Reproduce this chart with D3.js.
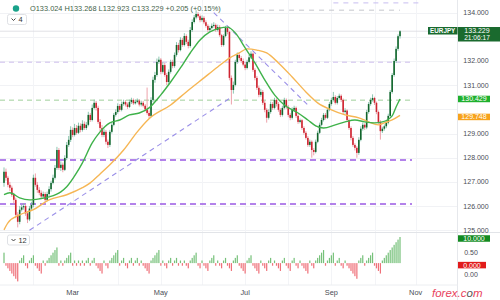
<!DOCTYPE html>
<html><head><meta charset="utf-8">
<script src="https://cdn.jsdelivr.net/npm/d3@7"></script>
<style>body{margin:0;background:#fff}svg{display:block;font-family:"Liberation Sans",Arial,sans-serif}</style>
</head><body><svg id="c" width="500" height="300"></svg>
<script>
const symbol = "EURJPY";
const startDate = "2021-01-11";
const countdown = "21:06:17";
const opens = [126.96,127.42,127.17,126.88,126.76,126.47,126.26,125.64,125.35,125.85,
125.95,126.00,125.70,125.45,125.90,126.05,127.17,126.88,126.67,126.55,
126.40,126.50,126.26,126.50,126.70,126.96,127.17,127.58,128.32,127.58,
127.71,127.50,127.99,128.53,128.74,129.15,128.94,129.23,129.03,129.32,
129.15,129.40,129.23,129.36,129.77,129.56,130.06,130.27,130.06,129.48,
129.23,128.94,129.07,128.66,128.53,129.07,129.36,129.77,129.89,130.14,
129.98,130.22,130.30,130.20,130.10,130.30,130.39,130.25,130.31,130.36,
130.20,130.27,130.15,130.00,129.85,129.73,130.39,131.22,131.42,131.96,
132.05,131.55,131.83,131.42,131.13,131.55,131.96,131.79,132.25,132.66,
132.45,132.87,132.66,133.03,132.79,132.62,133.28,133.61,133.80,133.94,
133.85,133.69,133.78,133.60,133.45,133.28,133.36,133.45,133.49,133.28,
133.40,133.07,132.66,133.03,133.36,133.20,131.30,130.80,131.01,131.96,
132.25,132.12,132.00,131.85,131.71,131.96,132.15,132.30,131.63,131.30,
130.89,130.60,130.72,130.27,129.98,129.65,129.89,130.22,130.06,130.39,
130.22,129.98,129.77,130.06,130.39,130.10,129.77,129.65,129.98,130.06,
129.73,129.48,129.55,129.23,129.03,128.82,128.53,128.66,128.32,128.24,
128.66,129.03,129.36,129.56,129.77,129.65,129.98,130.22,130.39,130.51,
130.27,130.47,130.56,130.39,129.89,129.95,129.56,129.23,128.82,128.53,
128.41,128.20,128.74,129.20,129.36,129.25,129.89,130.22,130.39,130.47,
130.27,129.89,129.48,129.10,129.20,129.30,129.45,129.73,130.72,131.42,
132.00,132.50,133.024];
const closes = [127.42,127.17,126.88,126.76,126.47,126.26,125.64,125.35,125.85,125.95,
126.00,125.70,125.45,125.90,126.05,127.17,126.88,126.67,126.55,126.40,
126.50,126.26,126.50,126.70,126.96,127.17,127.58,128.32,127.58,127.71,
127.50,127.99,128.53,128.74,129.15,128.94,129.23,129.03,129.32,129.15,
129.40,129.23,129.36,129.77,129.56,130.06,130.27,130.06,129.48,129.23,
128.94,129.07,128.66,128.53,129.07,129.36,129.77,129.89,130.14,129.98,
130.22,130.30,130.20,130.10,130.30,130.39,130.25,130.31,130.36,130.20,
130.27,130.15,130.00,129.85,129.73,130.39,131.22,131.42,131.96,132.05,
131.55,131.83,131.42,131.13,131.55,131.96,131.79,132.25,132.66,132.45,
132.87,132.66,133.03,132.79,132.62,133.28,133.61,133.80,133.94,133.85,
133.69,133.78,133.60,133.45,133.28,133.36,133.45,133.49,133.28,133.40,
133.07,132.66,133.03,133.36,133.20,131.30,130.80,131.01,131.96,132.25,
132.12,132.00,131.85,131.71,131.96,132.15,132.30,131.63,131.30,130.89,
130.60,130.72,130.27,129.98,129.65,129.89,130.22,130.06,130.39,130.22,
129.98,129.77,130.06,130.39,130.10,129.77,129.65,129.98,130.06,129.73,
129.48,129.55,129.23,129.03,128.82,128.53,128.66,128.32,128.24,128.66,
129.03,129.36,129.56,129.77,129.65,129.98,130.22,130.39,130.51,130.27,
130.47,130.56,130.39,129.89,129.95,129.56,129.23,128.82,128.53,128.41,
128.20,128.74,129.20,129.36,129.25,129.89,130.22,130.39,130.47,130.27,
129.89,129.48,129.10,129.20,129.30,129.45,129.73,130.72,131.42,132.00,
132.50,133.024,133.229];
const highs = [127.60,127.55,127.25,127.00,126.85,126.55,126.35,125.75,126.00,126.05,
126.12,126.08,125.80,126.00,126.18,127.30,127.35,127.00,126.78,126.65,
126.60,126.58,126.60,126.82,127.05,127.30,127.70,128.45,128.40,127.85,
127.80,128.10,128.65,128.90,129.30,129.25,129.40,129.35,129.45,129.42,
129.55,129.50,129.48,129.90,129.85,130.20,130.40,130.35,130.15,129.60,
129.35,129.20,129.15,128.75,129.15,129.45,129.85,130.00,130.25,130.22,
130.32,130.40,130.38,130.28,130.40,130.48,130.45,130.40,130.45,130.42,
130.36,130.35,130.22,130.90,129.95,130.50,131.35,131.55,132.10,132.18,
132.12,131.95,131.92,131.50,131.65,132.05,132.05,132.35,132.78,132.75,
132.98,132.95,133.15,133.10,132.88,133.40,133.72,133.90,134.10,134.02,
133.92,133.88,133.85,133.68,133.52,133.45,133.55,133.60,133.55,133.50,
133.48,133.12,133.10,133.45,133.42,133.25,131.40,131.15,132.05,132.35,
132.32,132.20,132.10,131.95,132.05,132.25,132.40,132.35,131.70,131.38,
130.98,130.85,130.80,130.35,130.05,130.00,130.32,130.30,130.48,130.45,
130.30,130.05,130.15,130.48,130.45,130.18,129.85,130.08,130.15,130.12,
129.80,129.62,129.60,129.30,129.10,128.90,128.75,128.72,128.40,128.75,
129.12,129.45,129.65,129.85,129.85,130.05,130.30,130.48,130.72,130.58,
130.55,130.65,130.62,130.45,130.05,130.00,129.62,129.30,128.90,128.60,
128.48,128.85,129.30,129.45,129.42,129.98,130.30,130.48,130.62,130.52,
130.32,129.95,129.55,129.28,129.38,129.52,129.82,130.80,131.50,132.10,
132.60,133.10,133.268];
const lows = [126.80,127.05,126.78,126.62,126.38,126.10,125.50,125.12,125.25,125.78,
125.85,125.60,125.30,125.38,125.82,125.95,126.80,126.55,126.45,126.30,
126.32,126.15,126.20,126.42,126.60,126.90,127.10,127.50,127.50,127.45,
127.40,127.45,127.90,128.45,128.65,128.85,128.88,128.95,128.98,129.05,
129.08,129.15,129.15,129.30,129.48,129.50,130.00,129.95,129.40,129.10,
128.85,128.85,128.55,128.40,128.45,129.00,129.30,129.70,129.82,129.90,
129.92,130.15,130.12,130.02,130.05,130.22,130.18,130.20,130.25,130.12,
130.12,130.08,129.92,129.78,129.62,129.68,130.30,131.10,131.35,131.88,
131.45,131.48,131.35,131.00,131.05,131.48,131.70,131.72,132.18,132.35,
132.40,132.58,132.60,132.70,132.52,132.55,133.20,133.55,133.72,133.78,
133.60,133.62,133.52,133.38,133.20,133.22,133.30,133.38,133.20,133.22,
133.00,132.58,132.60,132.98,133.10,131.20,130.20,130.65,130.95,131.88,
132.02,131.92,131.78,131.62,131.65,131.90,132.08,131.55,131.20,130.80,
130.50,130.52,130.18,129.88,129.45,129.58,129.82,129.98,130.00,130.12,
129.90,129.68,129.70,130.00,130.02,129.68,129.55,129.58,129.90,129.65,
129.40,129.42,129.15,128.95,128.75,128.45,128.45,128.00,128.10,128.18,
128.60,128.98,129.30,129.50,129.58,129.60,129.92,130.15,130.32,130.20,
130.20,130.40,130.30,129.80,129.82,129.48,129.15,128.72,128.45,128.30,
128.00,128.12,128.68,129.12,129.15,129.18,129.82,130.15,130.32,130.18,
129.80,129.40,128.75,129.02,129.12,129.22,129.38,129.68,130.65,131.35,
131.92,132.42,132.923];
const streak = [4,-1,-2,-3,-4,-5,-6,-7,1,2,
3,-1,-2,1,2,3,-1,-2,-3,-4,
1,-1,1,2,3,4,5,6,-1,1,
-1,1,2,3,4,-1,1,-1,1,-1,
1,-1,1,2,-1,1,2,-1,-2,-3,
-4,1,-1,-2,1,2,3,4,5,-1,
1,2,-1,-2,1,2,-1,1,2,-1,
1,-1,-2,-3,-4,1,2,3,4,5,
-1,1,-1,-2,1,2,-1,1,2,-1,
1,-1,1,-1,-2,1,2,3,4,-1,
-2,1,-1,-2,-3,1,2,3,-1,1,
-1,-2,1,2,-1,-2,-3,1,2,3,
-1,-2,-3,-4,1,2,3,-1,-2,-3,
-4,1,-1,-2,-3,1,2,-1,1,-1,
-2,-3,1,2,-1,-2,-3,1,2,-1,
-2,1,-1,-2,-3,-4,1,-1,-2,1,
2,3,4,5,-1,1,2,3,4,-1,
1,2,-1,-2,1,-1,-2,-3,-4,-5,
-6,1,2,3,-1,1,2,3,4,-1,
-2,-3,-4,1,2,3,4,5,6,7,
8,9,10];
const ma20Idx = [0,3,8,13,18,23,29,32,37,40,45,49,54,59,64,69,74,80,85,90,95,100,105,110,114,118,123,128,133,138,143,150,155,159,163,169,174,179,184,189,193,198,200,202];
const ma20Val = [126.47,126.55,126.34,126.26,126.30,126.38,126.59,126.80,127.37,127.79,128.61,129.07,129.44,129.56,129.77,129.85,130.06,130.60,131.13,131.71,132.33,132.87,133.20,133.36,133.40,133.16,132.54,131.92,131.22,130.60,130.18,129.85,129.56,129.32,129.23,129.36,129.48,129.56,129.48,129.44,129.48,129.73,130.10,130.429];
const ma50Idx = [0,2,8,15,23,32,40,44,49,54,61,68,74,85,93,102,109,115,120,124,129,134,140,147,154,160,167,174,181,186,191,194,198,202];
const ma50Val = [125.02,125.31,125.64,125.85,126.26,126.47,126.76,126.96,127.33,127.71,128.32,129.07,129.61,130.18,130.72,131.30,131.75,132.12,132.33,132.50,132.45,132.33,131.92,131.34,130.72,130.27,129.98,129.77,129.65,129.48,129.36,129.44,129.56,129.748];
const priceTicks = [125,126,127,128,129,130,131,132,133,134];
const monthLabels = ["Mar","May","Jul","Sep","Nov"];
const monthDates = ["2021-03-01","2021-05-03","2021-07-01","2021-09-01","2021-11-01"];
const gridDates = ["2021-02-01","2021-03-01","2021-04-01","2021-05-03","2021-06-01","2021-07-01","2021-08-02","2021-09-01","2021-10-01","2021-11-01"];
const purpleLevels = [127.905, 126.09];
const greenLevel = 130.38;
const lavenderLevel = 131.95;
const topGrayLevel = 134.1;
const topLavLevel = 134.4;
const trendUp = [[13,125.0],[116,130.5]];
const trendDown = [[107,134.0],[156,130.1]];
const histTicks = [0.50, 0.00];
const histTagValues = [10, 0];

function tIndex(ds){let d=new Date(startDate+"T00:00:00Z"),t=new Date(ds+"T00:00:00Z"),n=0;while(d<t){d.setUTCDate(d.getUTCDate()+1);const w=d.getUTCDay();if(w!==0&&w!==6)n++;}return n;}

const svg = d3.select("#c");
const W=500, plotR=457.5, histT=232.5, histB=285;
const x = d3.scaleLinear().domain([0, closes.length-1]).range([4, 400]);
const y = d3.scaleLinear().domain([124.93, 134.52]).range([232, 0]);
const yh = d3.scaleLinear().domain([-8, 10]).range([284, 237]);
const yht = d3.scaleLinear().domain([0, 0.5]).range([275, 253]);
const last = closes.length-1;

// grid
svg.append("g").selectAll("line").data(priceTicks).join("line")
  .attr("x1",0).attr("x2",plotR).attr("y1",d=>Math.round(y(d))+0.5).attr("y2",d=>Math.round(y(d))+0.5)
  .attr("stroke","#f1f2f5");
svg.append("g").selectAll("line").data(gridDates).join("line")
  .attr("x1",d=>Math.round(x(tIndex(d)))+0.5).attr("x2",d=>Math.round(x(tIndex(d)))+0.5)
  .attr("y1",0).attr("y2",histB).attr("stroke","#f3f4f7");
svg.append("line").attr("x1",plotR).attr("x2",plotR).attr("y1",0).attr("y2",300).attr("stroke","#e6e8ec");
svg.append("line").attr("x1",0).attr("x2",W).attr("y1",histT).attr("y2",histT).attr("stroke","#e2e4e8");
svg.append("line").attr("x1",0).attr("x2",plotR).attr("y1",histB).attr("y2",histB).attr("stroke","#eceef1");

// drawings
svg.append("line").attr("x1",0).attr("x2",plotR).attr("y1",y(closes[last])).attr("y2",y(closes[last])).attr("stroke","#d9dbe0").attr("stroke-width",0.8);
svg.append("g").selectAll("line").data(purpleLevels).join("line")
  .attr("x1",0).attr("x2",412).attr("y1",d=>y(d)).attr("y2",d=>y(d))
  .attr("stroke","#9b59e3").attr("stroke-width",1.6).attr("stroke-dasharray","6,4");
svg.append("line").attr("x1",0).attr("x2",412).attr("y1",y(greenLevel)).attr("y2",y(greenLevel))
  .attr("stroke","#9fcf9b").attr("stroke-width",1).attr("stroke-dasharray","5,4");
svg.append("line").attr("x1",0).attr("x2",412).attr("y1",y(lavenderLevel)).attr("y2",y(lavenderLevel))
  .attr("stroke","#cdbdec").attr("stroke-width",1).attr("stroke-dasharray","5,4");
svg.append("line").attr("x1",x(125)).attr("x2",x(202)).attr("y1",y(topGrayLevel)).attr("y2",y(topGrayLevel))
  .attr("stroke","#c4c6cc").attr("stroke-width",1).attr("stroke-dasharray","5,5");
svg.append("line").attr("x1",x(168)).attr("x2",420).attr("y1",y(topLavLevel)).attr("y2",y(topLavLevel))
  .attr("stroke","#c7bdf0").attr("stroke-width",1).attr("stroke-dasharray","5,5");
[trendUp, trendDown].forEach(tl=>{
  svg.append("line").attr("x1",x(tl[0][0])).attr("y1",y(tl[0][1])).attr("x2",x(tl[1][0])).attr("y2",y(tl[1][1]))
    .attr("stroke","#9a8fe8").attr("stroke-width",1.1).attr("stroke-dasharray","5,4");
});

// candles
const idx = d3.range(closes.length);
const up = i => closes[i] >= opens[i];
svg.append("g").selectAll("line").data(idx).join("line")
  .attr("x1",i=>x(i)).attr("x2",i=>x(i)).attr("y1",i=>y(highs[i])).attr("y2",i=>y(lows[i]))
  .attr("stroke",i=>up(i)?"#7fbfa8":"#eb97a1").attr("stroke-width",0.9);
svg.append("g").selectAll("rect").data(idx).join("rect")
  .attr("x",i=>x(i)-0.8).attr("width",1.6)
  .attr("y",i=>y(Math.max(opens[i],closes[i])))
  .attr("height",i=>Math.max(0.8, Math.abs(y(opens[i])-y(closes[i]))))
  .attr("fill",i=>up(i)?"#12652c":"#cf2430");

// moving averages
const line = d3.line().x(d=>x(d[0])).y(d=>y(d[1])).curve(d3.curveMonotoneX);
svg.append("path").datum(ma50Idx.map((d,i)=>[d,ma50Val[i]])).attr("d",line).attr("fill","none").attr("stroke","#f6b654").attr("stroke-width",1.4);
svg.append("path").datum(ma20Idx.map((d,i)=>[d,ma20Val[i]])).attr("d",line).attr("fill","none").attr("stroke","#3fb24a").attr("stroke-width",1.4);

// histogram
svg.append("g").selectAll("rect").data(idx).join("rect")
  .attr("x",i=>x(i)-0.6).attr("width",1.2)
  .attr("y",i=>streak[i]>=0?yh(streak[i]):yh(0))
  .attr("height",i=>Math.abs(yh(streak[i])-yh(0)))
  .attr("fill",i=>streak[i]>=0?"#76c17a":"#ef7079");

// tags
function tag(yc, txt, fill, h, w){
  svg.append("rect").attr("x",458).attr("y",yc-h/2).attr("width",w||32).attr("height",h).attr("fill",fill);
  svg.append("text").attr("x",458+(w||32)/2).attr("y",yc+2.4).attr("text-anchor","middle").attr("font-size",7).attr("fill","#fff").text(txt);
}
const tagYs = [y(closes[last]), y(ma20Val[ma20Val.length-1]), y(ma50Val[ma50Val.length-1])];
svg.append("g").selectAll("text").data(priceTicks.filter(d=>tagYs.every(t=>Math.abs(y(d)-t)>7.5))).join("text")
  .attr("x",476).attr("y",d=>y(d)+2.4).attr("text-anchor","middle")
  .attr("font-size",7).attr("fill","#4a4d55").text(d=>d.toFixed(3));
svg.append("g").selectAll("text").data(histTicks).join("text")
  .attr("x",471).attr("y",d=>yht(d)+2.4).attr("text-anchor","middle")
  .attr("font-size",7).attr("fill","#4a4d55").text(d=>d.toFixed(2));
tag(y(ma50Val[ma50Val.length-1])+1.5, ma50Val[ma50Val.length-1].toFixed(3), "#f7a21b", 6.5);
tag(y(ma20Val[ma20Val.length-1]), ma20Val[ma20Val.length-1].toFixed(3), "#1fb02e", 6.5);
tag(yh(histTagValues[0])+1.5, histTagValues[0].toFixed(3), "#138a21", 6.5);
tag(yh(histTagValues[1])+2, histTagValues[1].toFixed(3), "#e11b1b", 6.5, 28);
svg.append("rect").attr("x",428).attr("y",27).attr("width",29.5).attr("height",7.5).attr("fill","#1a6a2e");
svg.append("text").attr("x",442.7).attr("y",33).attr("text-anchor","middle").attr("font-size",6.3).attr("font-weight","bold").attr("fill","#fff").text(symbol);
svg.append("rect").attr("x",458).attr("y",27).attr("width",42).attr("height",14.5).attr("fill","#1a6a2e");
svg.append("text").attr("x",477).attr("y",33.3).attr("text-anchor","middle").attr("font-size",7).attr("fill","#fff").text(closes[last].toFixed(3));
svg.append("text").attr("x",477).attr("y",40).attr("text-anchor","middle").attr("font-size",6.6).attr("fill","#fff").text(countdown);

// x axis labels
svg.append("g").selectAll("text").data(monthLabels).join("text")
  .attr("x",(d,i)=>x(tIndex(monthDates[i]))).attr("y",295).attr("text-anchor","middle")
  .attr("font-size",7.4).attr("fill","#4a4d55").text(d=>d);

// legend
svg.append("circle").attr("cx",16).attr("cy",8.5).attr("r",3.2).attr("fill","#1aa28a");
const chg = closes[last]-closes[last-1];
svg.append("text").attr("x",30).attr("y",11.3).attr("font-size",7.4).attr("fill","#3f5f49")
  .text(`O${opens[last].toFixed(3)}  H${highs[last].toFixed(3)}  L${lows[last].toFixed(3)}  C${closes[last].toFixed(3)}  +${chg.toFixed(3)} (+${(chg/closes[last-1]*100).toFixed(2)}%)`);
function pill(px,py,w,label){
  svg.append("rect").attr("x",px).attr("y",py).attr("width",w).attr("height",10).attr("rx",2).attr("fill","#fff").attr("stroke","#dfe1e5");
  svg.append("path").attr("d",`M${px+4},${py+4} l2,2 l2,-2`).attr("fill","none").attr("stroke","#333").attr("stroke-width",0.9);
  svg.append("text").attr("x",px+11).attr("y",py+7.6).attr("font-size",7.4).attr("fill","#333").text(label);
}
pill(7.5,14.5,19,"4");
pill(7.5,235,22,"12");

// logo
const lg = svg.append("text").attr("x",432).attr("y",297).attr("font-size",11.5).attr("font-style","italic").attr("fill","#e8425d");
lg.append("tspan").text("forex.c");
lg.append("tspan").attr("fill","#555").text("o");
lg.append("tspan").text("m");
</script></body></html>
